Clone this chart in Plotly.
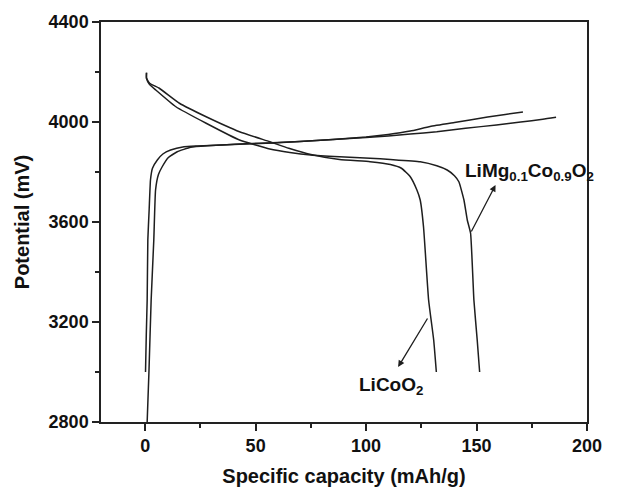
import plotly.graph_objects as go

# Charge curves
charge_a_cap = [0.15, 0.5, 0.9, 1.2, 1.8, 2.4, 3.3, 5.5, 8.0, 11.5, 17.6, 23.6, 35, 45.8, 57.7, 70, 85, 100, 110, 120, 129, 140, 147, 155, 163, 171]
charge_a_mv = [3000, 3150, 3288, 3528, 3650, 3768, 3815, 3848, 3872, 3888, 3901, 3904, 3908, 3913, 3916, 3922, 3930, 3940, 3950, 3964, 3982, 3998, 4008, 4020, 4030, 4040]

charge_b_cap = [0.9, 1.7, 2.7, 3.9, 4.7, 6.0, 7.7, 10.5, 14.5, 20.6, 28, 40, 55, 70, 85, 100, 110, 120, 132, 145, 159, 170, 180, 186]
charge_b_mv = [2800, 3000, 3288, 3528, 3728, 3790, 3821, 3858, 3881, 3899, 3905, 3910, 3916, 3922, 3930, 3938, 3944, 3952, 3961, 3975, 3988, 4000, 4011, 4019]

# Discharge curves
licoo2_cap = [0.6, 0.6, 2, 6.4, 15.5, 27.6, 42.7, 56.4, 65, 75, 88, 101.8, 111, 116, 120, 123, 124.5, 126, 128.3, 130.6, 131.8]
licoo2_mv = [4197, 4175, 4155, 4135, 4075, 4021, 3961, 3921, 3895, 3870, 3850, 3841, 3830, 3815, 3781, 3728, 3688, 3580, 3288, 3128, 3000]

limg_cap = [0.6, 0.6, 2, 4.8, 13.9, 27.6, 42.7, 56.4, 65.5, 75, 88, 101.8, 111, 124.5, 132, 136.7, 140, 142, 144.3, 145.8, 147.3, 148.8, 150.3, 151.4]
limg_mv = [4197, 4175, 4150, 4128, 4061, 3995, 3928, 3892, 3878, 3868, 3861, 3855, 3850, 3841, 3825, 3808, 3785, 3761, 3688, 3608, 3555, 3288, 3128, 3000]

x_ticks = [0, 50, 100, 150, 200]
y_ticks = [2800, 3200, 3600, 4000, 4400]

FONT = "Arial, Liberation Sans, sans-serif"
LINE = "#1e1e1e"

fig = go.Figure()
for cx, cy in [(charge_a_cap, charge_a_mv), (charge_b_cap, charge_b_mv),
               (licoo2_cap, licoo2_mv), (limg_cap, limg_mv)]:
    fig.add_trace(go.Scatter(x=cx, y=cy, mode="lines",
                             line=dict(color=LINE, width=1.5, shape="spline", smoothing=0.4),
                             showlegend=False, hoverinfo="skip"))

axis_common = dict(showgrid=False, zeroline=False, showline=True, linecolor="#222",
                   linewidth=1.5, mirror=True, ticks="outside", ticklen=7, tickwidth=1.5,
                   tickcolor="#222", automargin=False,
                   tickfont=dict(family=FONT, size=18, color="#111", weight="bold"))

fig.update_xaxes(range=[-20, 200], tickvals=x_ticks,
                 minor=dict(ticks="outside", ticklen=4, tickwidth=1.5, tickcolor="#222", dtick=25, tick0=0),
                 title=dict(text="Specific capacity (mAh/g)", standoff=14,
                            font=dict(family=FONT, size=20, color="#111", weight="bold")),
                 **axis_common)
fig.update_yaxes(range=[2800, 4400], tickvals=y_ticks,
                 minor=dict(ticks="outside", ticklen=4, tickwidth=1.5, tickcolor="#222", dtick=200, tick0=2800),
                 title=dict(text="Potential (mV)", standoff=14,
                            font=dict(family=FONT, size=20, color="#111", weight="bold")),
                 **axis_common)

# Labels
fig.add_annotation(x=143.8, y=3800, xref="x", yref="y", xanchor="left", yanchor="middle",
                   text="LiMg<sub>0.1</sub>Co<sub>0.9</sub>O<sub>2</sub>", showarrow=False,
                   font=dict(family=FONT, size=19, color="#111", weight="bold"))
fig.add_annotation(x=95.9, y=2944, xref="x", yref="y", xanchor="left", yanchor="middle",
                   text="LiCoO<sub>2</sub>", showarrow=False,
                   font=dict(family=FONT, size=19, color="#111", weight="bold"))
# Arrows (head near label, tail on curve)
fig.add_annotation(x=158.6, y=3748, ax=147.3, ay=3556, xref="x", yref="y", axref="x", ayref="y",
                   text="", showarrow=True, arrowhead=2, arrowsize=1, arrowwidth=1.3,
                   arrowcolor="#1e1e1e", standoff=0, startstandoff=0)
fig.add_annotation(x=114.5, y=3020, ax=128.2, ay=3220, xref="x", yref="y", axref="x", ayref="y",
                   text="", showarrow=True, arrowhead=2, arrowsize=1, arrowwidth=1.3,
                   arrowcolor="#1e1e1e", standoff=0, startstandoff=0)

fig.update_layout(width=618, height=487, margin=dict(l=101, r=31, t=22, b=65),
                  plot_bgcolor="white", paper_bgcolor="white", showlegend=False,
                  font=dict(family=FONT))

fig.write_html("out.html")
